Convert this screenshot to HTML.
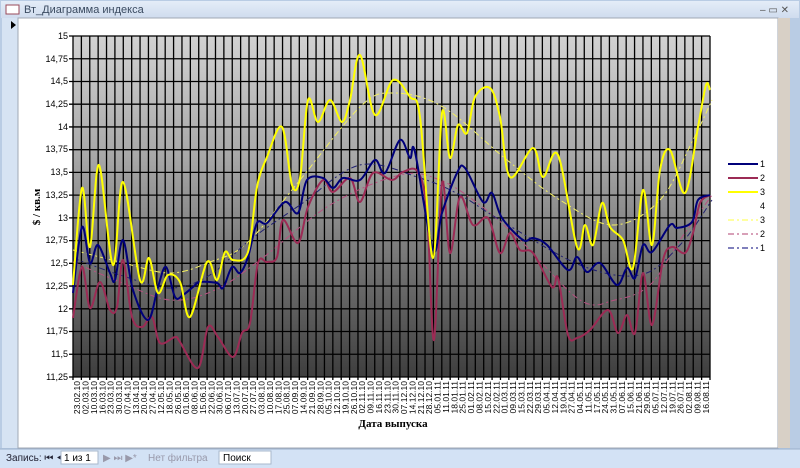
<!DOCTYPE html>
<html><head><meta charset="utf-8">
<style>
html,body{margin:0;padding:0;width:800px;height:468px;overflow:hidden;background:#c9d9ee;font-family:"Liberation Sans",sans-serif;}
svg{position:absolute;left:0;top:0}
</style></head>
<body>
<svg width="800" height="468" viewBox="0 0 800 468" xmlns="http://www.w3.org/2000/svg">
<defs>
<linearGradient id="bg" x1="0" y1="0" x2="0" y2="1">
<stop offset="0" stop-color="#d2d2d2"/><stop offset="0.35" stop-color="#a8a8a8"/><stop offset="1" stop-color="#3e3e3e"/>
</linearGradient>
<linearGradient id="tb" x1="0" y1="0" x2="0" y2="1">
<stop offset="0" stop-color="#e4edf8"/><stop offset="1" stop-color="#cfdcee"/>
</linearGradient>
</defs>
<!-- window chrome -->
<rect x="0" y="0" width="800" height="468" fill="#b9cce4"/>
<rect x="1" y="1" width="798" height="17" fill="url(#tb)"/>
<rect x="6" y="5" width="13" height="9" fill="#fff" stroke="#9a4a5a"/>
<text x="24" y="13" font-size="11" fill="#3a4a60">Вт_Диаграмма индекса</text>
<text x="760" y="13" font-size="10" fill="#555">–  ▭  ✕</text>
<rect x="2" y="18" width="16" height="430" fill="#d6e3f3"/>
<polygon points="11,21 16,25 11,29" fill="#000"/>
<rect x="18" y="18" width="760" height="430" fill="#ffffff" stroke="#a0a8b4"/>
<rect x="778" y="18" width="12" height="430" fill="#d8d0c6"/>
<rect x="0" y="449" width="800" height="19" fill="#d3e2f5"/>
<line x1="0" y1="449" x2="800" y2="449" fill="none" stroke="#9bb0cc"/>
<text x="6" y="461" font-size="10" fill="#223">Запись: ⏮  ◀</text>
<rect x="61" y="451" width="37" height="13" fill="#fff" stroke="#a8b8cc"/>
<text x="64" y="461" font-size="10" fill="#000">1 из 1</text>
<text x="103" y="461" font-size="10" fill="#99a">▶  ⏭  ▶*</text>
<text x="148" y="461" font-size="10" fill="#99a">Нет фильтра</text>
<rect x="219" y="451" width="52" height="13" fill="#fff" stroke="#a8b8cc"/>
<text x="223" y="461" font-size="10" fill="#000">Поиск</text>
<!-- plot -->
<rect x="73" y="36" width="637" height="341" fill="url(#bg)"/>
<g id="grid" stroke="#000" stroke-width="1.3"></g>
<g id="series" fill="none"></g>
<g font-size="9" fill="#000" text-anchor="end">
<text x="68" y="39">15</text><text x="68" y="62">14,75</text><text x="68" y="84">14,5</text><text x="68" y="107">14,25</text>
<text x="68" y="130">14</text><text x="68" y="152">13,75</text><text x="68" y="175">13,5</text><text x="68" y="198">13,25</text>
<text x="68" y="221">13</text><text x="68" y="243">12,75</text><text x="68" y="266">12,5</text><text x="68" y="289">12,25</text>
<text x="68" y="312">12</text><text x="68" y="334">11,75</text><text x="68" y="357">11,5</text><text x="68" y="380">11,25</text>
</g>
<g id="dates" font-size="8.5" fill="#000" text-anchor="end">
<text>23.02.10</text><text>02.03.10</text><text>10.03.10</text><text>16.03.10</text><text>23.03.10</text><text>30.03.10</text><text>07.04.10</text><text>13.04.10</text><text>20.04.10</text><text>27.04.10</text><text>12.05.10</text><text>18.05.10</text><text>26.05.10</text><text>01.06.10</text><text>08.06.10</text><text>15.06.10</text><text>22.06.10</text><text>30.06.10</text><text>06.07.10</text><text>13.07.10</text><text>20.07.10</text><text>27.07.10</text><text>03.08.10</text><text>10.08.10</text><text>17.08.10</text><text>25.08.10</text><text>07.09.10</text><text>14.09.10</text><text>21.09.10</text><text>28.09.10</text><text>05.10.10</text><text>12.10.10</text><text>19.10.10</text><text>26.10.10</text><text>02.11.10</text><text>09.11.10</text><text>16.11.10</text><text>23.11.10</text><text>30.11.10</text><text>07.12.10</text><text>14.12.10</text><text>21.12.10</text><text>28.12.10</text><text>05.01.11</text><text>11.01.11</text><text>18.01.11</text><text>25.01.11</text><text>01.02.11</text><text>08.02.11</text><text>15.02.11</text><text>22.02.11</text><text>01.03.11</text><text>09.03.11</text><text>15.03.11</text><text>22.03.11</text><text>29.03.11</text><text>05.04.11</text><text>12.04.11</text><text>19.04.11</text><text>27.04.11</text><text>04.05.11</text><text>11.05.11</text><text>17.05.11</text><text>24.05.11</text><text>31.05.11</text><text>07.06.11</text><text>15.06.11</text><text>21.06.11</text><text>29.06.11</text><text>05.07.11</text><text>12.07.11</text><text>19.07.11</text><text>26.07.11</text><text>02.08.11</text><text>09.08.11</text><text>16.08.11</text>
</g>
<text x="393" y="427" font-family="Liberation Serif,serif" font-weight="bold" font-size="11" text-anchor="middle">Дата выпуска</text>
<text transform="translate(40,207) rotate(-90)" font-family="Liberation Serif,serif" font-weight="bold" font-size="11" text-anchor="middle">$ / кв.м</text>
<!-- legend -->
<g font-size="9" fill="#000">
<line x1="728" y1="164" x2="758" y2="164" stroke="#00007a" stroke-width="2"/><text x="760" y="167">1</text>
<line x1="728" y1="178" x2="758" y2="178" stroke="#9c2b55" stroke-width="2"/><text x="760" y="181">2</text>
<line x1="728" y1="192" x2="758" y2="192" stroke="#ffff00" stroke-width="2"/><text x="760" y="195">3</text>
<text x="760" y="209">4</text>
<line x1="728" y1="220" x2="758" y2="220" stroke="#ffff40" stroke-width="1" stroke-dasharray="6,3,2,3"/><text x="760" y="223">3</text>
<line x1="728" y1="234" x2="758" y2="234" stroke="#b04070" stroke-width="1" stroke-dasharray="6,3,2,3"/><text x="760" y="237">2</text>
<line x1="728" y1="248" x2="758" y2="248" stroke="#00007a" stroke-width="1" stroke-dasharray="6,3,2,3"/><text x="760" y="251">1</text>
</g>
</svg>
<script>
var NS="http://www.w3.org/2000/svg";
var X0=73,X1=710,Y0=36,Y1=377;
var g=document.getElementById('grid');
function ln(p,x1,y1,x2,y2,st,w,da){var l=document.createElementNS(NS,'line');l.setAttribute('x1',x1);l.setAttribute('y1',y1);l.setAttribute('x2',x2);l.setAttribute('y2',y2);if(st)l.setAttribute('stroke',st);if(w)l.setAttribute('stroke-width',w);if(da)l.setAttribute('stroke-dasharray',da);p.appendChild(l);}
var N=76,w=(X1-X0)/N;
for(var i=0;i<=N;i++){var x=X0+i*w;ln(g,x,Y0,x,Y1+3);}
for(var j=0;j<=15;j++){var y=Y0+j*(Y1-Y0)/15;ln(g,X0-4,y,X1,y);}
var ds=document.getElementById('dates').children;
for(var i=0;i<ds.length;i++){var x=X0+(i+0.5)*w+3;ds[i].setAttribute('transform','translate('+x+',381) rotate(-90)');}
function cr(pts){var d='M'+pts[0][0]+','+pts[0][1];for(var i=0;i<pts.length-1;i++){var p0=pts[i-1]||pts[i],p1=pts[i],p2=pts[i+1],p3=pts[i+2]||p2;var c1x=p1[0]+(p2[0]-p0[0])/6,c1y=p1[1]+(p2[1]-p0[1])/6,c2x=p2[0]-(p3[0]-p1[0])/6,c2y=p2[1]-(p3[1]-p1[1])/6;d+='C'+c1x.toFixed(1)+','+c1y.toFixed(1)+' '+c2x.toFixed(1)+','+c2y.toFixed(1)+' '+p2[0]+','+p2[1];}return d;}
var S=document.getElementById('series');
function pth(pts,col,wd,da){var p=document.createElementNS(NS,'path');p.setAttribute('d',cr(pts));p.setAttribute('stroke',col);p.setAttribute('stroke-width',wd);if(da)p.setAttribute('stroke-dasharray',da);S.appendChild(p);}
var yt=[[73,250],[120,262],[170,273],[210,262],[247,243],[300,180],[360,107],[393,93],[443,107],[507,160],[560,200],[613,225],[660,200],[693,140],[712,100]];
var bt=[[73,258],[120,275],[170,288],[210,275],[250,240],[300,205],[360,165],[420,178],[460,195],[500,220],[580,265],[640,275],[680,245],[712,200]];
var rt=[[73,262],[120,282],[170,300],[215,290],[260,260],[330,205],[400,175],[440,180],[480,205],[520,240],[580,300],[615,300],[650,285],[680,240],[712,195]];
pth(yt,'#f4f060',1,'6,3,2,3');pth(rt,'#b85080',1,'6,3,2,3');pth(bt,'#202070',1,'6,3,2,3');
var red=[[73,318],[82,267],[90,308],[100,282],[110,310],[117,307],[123,260],[132,317],[142,327],[152,317],[160,343],[175,337],[180,342],[198,368],[208,327],[218,337],[233,357],[242,333],[250,323],[258,263],[267,262],[277,257],[283,220],[298,243],[308,207],[323,180],[333,192],[350,178],[360,202],[373,173],[392,180],[403,172],[418,172],[427,213],[434,340],[442,183],[450,253],[460,197],[473,225],[488,218],[500,253],[510,233],[520,250],[533,253],[552,287],[558,278],[568,335],[577,338],[590,330],[608,310],[618,333],[627,315],[635,333],[643,273],[652,325],[663,260],[672,247],[685,253],[693,233],[700,203],[710,195]];
var blue=[[73,293],[82,227],[90,263],[98,245],[110,273],[115,280],[123,240],[133,290],[148,320],[158,287],[166,267],[175,297],[183,295],[193,287],[200,282],[217,283],[223,288],[232,267],[240,273],[248,257],[257,223],[267,223],[285,202],[298,213],[307,180],[323,178],[333,188],[343,178],[360,180],[375,160],[385,173],[400,140],[410,158],[415,152],[433,250],[442,213],[457,173],[465,168],[483,202],[492,193],[502,218],[523,240],[533,238],[547,245],[568,270],[577,257],[587,272],[600,263],[617,285],[627,268],[635,278],[643,245],[652,252],[670,225],[677,228],[692,222],[698,200],[710,195]];
var yel=[[73,285],[82,188],[90,247],[99,165],[113,265],[123,182],[140,280],[149,258],[158,293],[168,275],[180,282],[190,317],[207,262],[217,280],[225,252],[233,260],[248,252],[257,187],[267,157],[282,127],[292,185],[300,178],[308,100],[318,122],[330,100],[342,122],[350,100],[360,55],[375,115],[393,80],[410,97],[420,117],[433,258],[442,113],[450,158],[458,125],[467,133],[475,97],[490,88],[500,117],[510,177],[533,148],[543,177],[558,155],[577,247],[585,225],[593,245],[602,203],[610,227],[623,240],[633,268],[643,190],[652,245],[660,170],[670,150],[685,193],[698,127],[706,85],[710,90]];
pth(red,'#9c2b55',2);pth(blue,'#00007a',2);pth(yel,'#ffff00',2);
</script>
</body></html>
